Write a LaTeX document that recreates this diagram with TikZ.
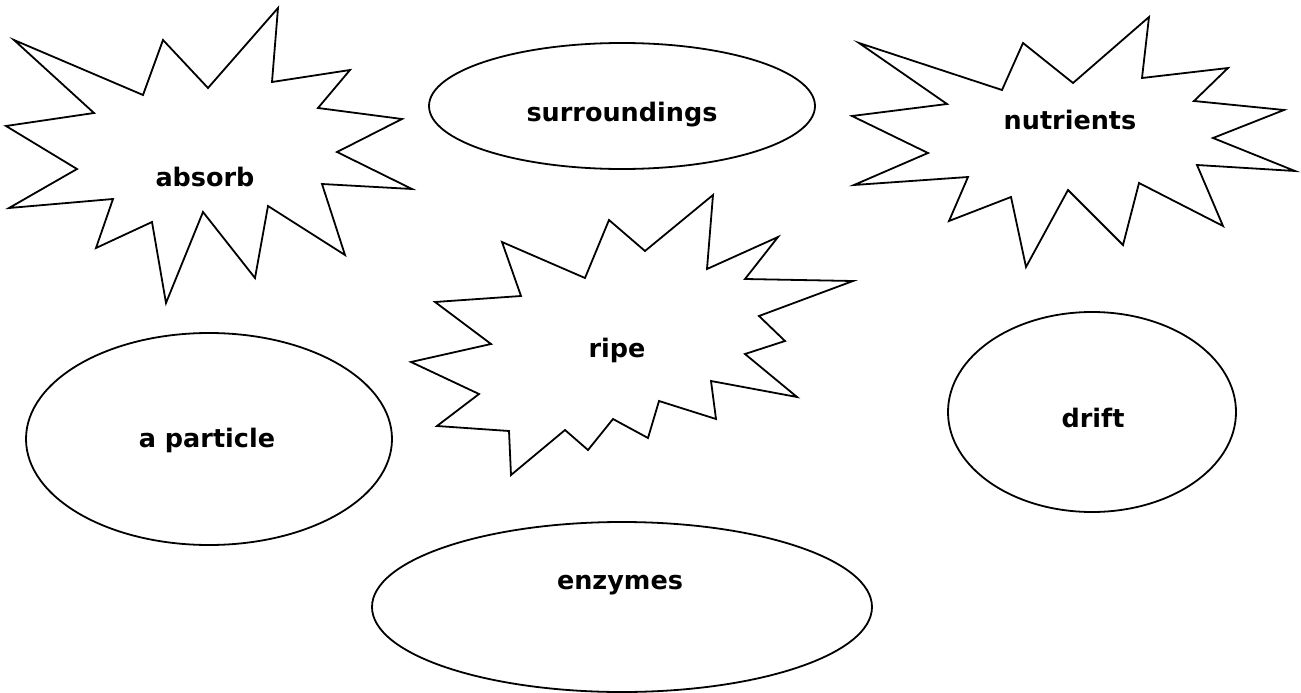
\documentclass[tikz,border=0pt]{standalone}
\usepackage{fontspec}
\setmainfont{DejaVu Sans}
\usepackage{tikz}

\tikzset{word/.style={font=\bfseries\fontsize{25.5}{30}\selectfont}}

\begin{document}
\begin{tikzpicture}[x=1pt,y=-1pt,line width=1.8pt,line join=miter]
\useasboundingbox (0,0) rectangle (1301,693);
% starbursts
\draw (14,40) -- (143,95) -- (163,40) -- (208,88) -- (278,8) -- (272,82) -- (350,70)
  -- (318,108) -- (402,119) -- (337,152) -- (412,189) -- (322,184) -- (345,255)
  -- (268,206) -- (255,278) -- (203,212) -- (166,303) -- (152,222) -- (96,248)
  -- (113,199) -- (9,208) -- (77,169) -- (6,126) -- (94,113) -- cycle;
\node[word] (absorb) at (205,177) {absorb};
\draw (859,43) -- (1002,90) -- (1023,43) -- (1073,83) -- (1149,17) -- (1142,78) -- (1228,68)
  -- (1194,101) -- (1284,110) -- (1213,138) -- (1295,171) -- (1197,165) -- (1223,226)
  -- (1139,183) -- (1123,245) -- (1068,190) -- (1026,267) -- (1011,197) -- (949,221)
  -- (968,177) -- (854,185) -- (928,153) -- (852,116) -- (947,104) -- cycle;
\node[word] (nutrients) at (1070,120) {nutrients};
\draw (502,242) -- (585,278) -- (609,220) -- (645,251) -- (713,195) -- (707,269) -- (778,237)
  -- (745,279) -- (853,281) -- (759,316) -- (785,341) -- (745,354) -- (797,397)
  -- (711,381) -- (716,419) -- (659,401) -- (648,438) -- (613,419) -- (588,450)
  -- (565,430) -- (511,475) -- (509,431) -- (437,426) -- (479,394) -- (411,362)
  -- (491,344) -- (435,302) -- (521,296) -- cycle;
\node[word] (ripe) at (617,350) {ripe};
% ovals
\draw (622,106) ellipse [x radius=193,y radius=63];
\node[word] (surroundings) at (622,115) {surroundings};
\draw (209,439) ellipse [x radius=183,y radius=106];
\node[word] (particle) at (207,440) {a particle};
\draw (1092,412) ellipse [x radius=144,y radius=100];
\node[word] (drift) at (1093,418) {drift};
\draw (622,607) ellipse [x radius=250,y radius=85];
\node[word] (enzymes) at (620,585) {enzymes};
\end{tikzpicture}
\end{document}
